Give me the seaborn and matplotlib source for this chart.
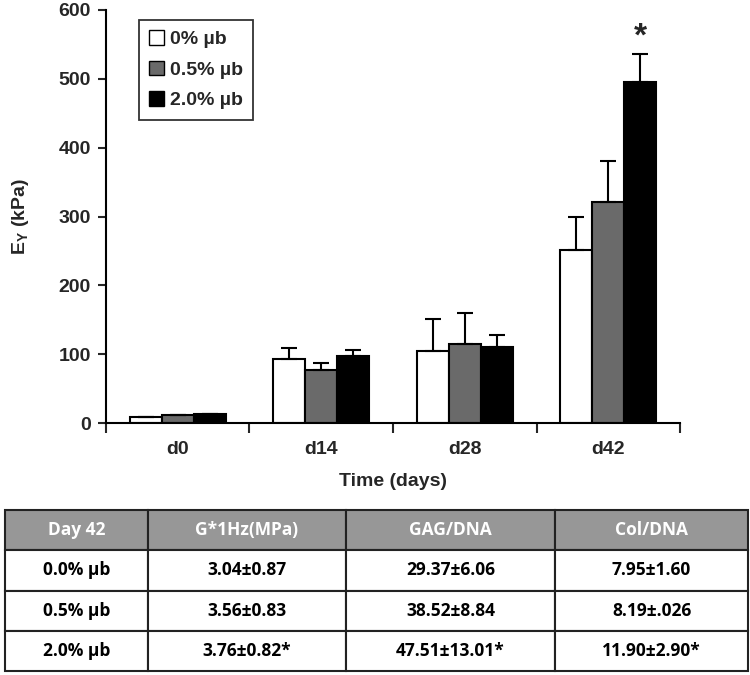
import numpy as np
import pandas as pd
import seaborn as sns
import matplotlib.pyplot as plt

# bar chart data
days = ["d0", "d14", "d28", "d42"]
groups = ["0% µb", "0.5% µb", "2.0% µb"]
ey_0 = [9, 93, 105, 251]
ey_05 = [11, 77, 115, 321]
ey_20 = [13, 97, 110, 496]
err_0 = [0, 16, 46, 48]
err_05 = [0, 10, 45, 60]
err_20 = [0, 9, 18, 40]

# table data
table_cols = ["Day 42", "G*1Hz(MPa)", "GAG/DNA", "Col/DNA"]
table_rows = ["0.0% µb", "0.5% µb", "2.0% µb"]
g_star = ["3.04±0.87", "3.56±0.83", "3.76±0.82*"]
gag_dna = ["29.37±6.06", "38.52±8.84", "47.51±13.01*"]
col_dna = ["7.95±1.60", "8.19±.026", "11.90±2.90*"]

sns.set_style("white")
plt.rcParams['font.family'] = ['Liberation Sans', 'DejaVu Sans']
plt.rcParams['font.weight'] = 'bold'
plt.rcParams['mathtext.fontset'] = 'custom'
plt.rcParams['mathtext.rm'] = 'Liberation Sans:bold'
plt.rcParams['mathtext.bf'] = 'Liberation Sans:bold'

df = pd.DataFrame({
    "day": days * 3,
    "group": [g for g in groups for _ in days],
    "ey": ey_0 + ey_05 + ey_20,
    "err": err_0 + err_05 + err_20,
})

fig = plt.figure(figsize=(7.5, 6.75), dpi=100)
ax = fig.add_axes([0.1413, 0.3733, 0.7654, 0.6119])

colors = ["white", "#6a6a6a", "black"]
sns.barplot(data=df, x="day", y="ey", hue="group", order=days, hue_order=groups,
            palette=colors, width=0.67, edgecolor="black", linewidth=1.5,
            errorbar=None, ax=ax)

# upper error bars, one per bar
for patch_group, g in zip(ax.containers, groups):
    sub = df[df["group"] == g].set_index("day").loc[days]
    xs = [p.get_x() + p.get_width() / 2 for p in patch_group]
    ax.errorbar(xs, sub["ey"], yerr=[np.zeros(len(days)), sub["err"]],
                fmt="none", ecolor="black", elinewidth=1.5, capsize=6, capthick=1.5)

# significance star over 2.0% at d42
last = ax.containers[2][3]
ax.text(last.get_x() + last.get_width() / 2, ey_20[3] + err_20[3] + 2, "*",
        ha="center", va="bottom", fontsize=24, fontweight="bold")

ax.set_ylim(0, 600)
ax.set_xlim(-0.5, 3.5)
ax.set_yticks(range(0, 601, 100))
ax.set_xticks(range(4))
ax.set_xticklabels(days)
ax.set_xticks(np.arange(-0.5, 4, 1), minor=True)
ax.tick_params(axis="x", which="major", length=0, pad=13, labelsize=14)
ax.tick_params(axis="x", which="minor", length=7, width=1.5, direction="out", bottom=True)
ax.tick_params(axis="y", length=6, width=1.5, direction="out", left=True, labelsize=14, pad=5)
for s in ["top", "right"]:
    ax.spines[s].set_visible(False)
for s in ["left", "bottom"]:
    ax.spines[s].set_linewidth(1.5)
    ax.spines[s].set_color("black")

ax.set_xlabel("Time (days)", fontsize=14, fontweight="bold", labelpad=11)
ax.set_ylabel(r"E$_{\mathbf{Y}}$ (kPa)", fontsize=14, fontweight="bold", labelpad=20)

leg = ax.legend(loc="upper left", bbox_to_anchor=(0.04, 1.0), fontsize=14,
                frameon=True, fancybox=False, handlelength=0.75, handleheight=0.75,
                handletextpad=0.3, labelspacing=0.65, borderpad=0.55)
leg.get_frame().set_edgecolor("black")
leg.get_frame().set_linewidth(1.3)
for h in leg.legend_handles:
    h.set_linewidth(1.0)

# summary table
tax = fig.add_axes([0.0067, 0.0059, 0.9907, 0.2385])
tax.axis("off")
cell_text = [[r, a, b, c] for r, a, b, c in zip(table_rows, g_star, gag_dna, col_dna)]
widths = np.array([143, 198, 209, 193], dtype=float)
tab = tax.table(cellText=cell_text, colLabels=table_cols, colWidths=list(widths / widths.sum()),
                bbox=[0, 0, 1, 1], cellLoc="center")
tab.auto_set_font_size(False)
for (r, c), cell in tab.get_celld().items():
    cell.set_edgecolor("#222222")
    cell.set_linewidth(1.5)
    txt = cell.get_text()
    txt.set_fontfamily(["Open Sans", "DejaVu Sans"])
    txt.set_fontweight("bold")
    txt.set_fontsize(12.5)
    if r == 0:
        cell.set_facecolor("#979797")
        txt.set_color("white")
    else:
        cell.set_facecolor("white")
        txt.set_color("black")

fig.savefig("out.png", dpi=100)
